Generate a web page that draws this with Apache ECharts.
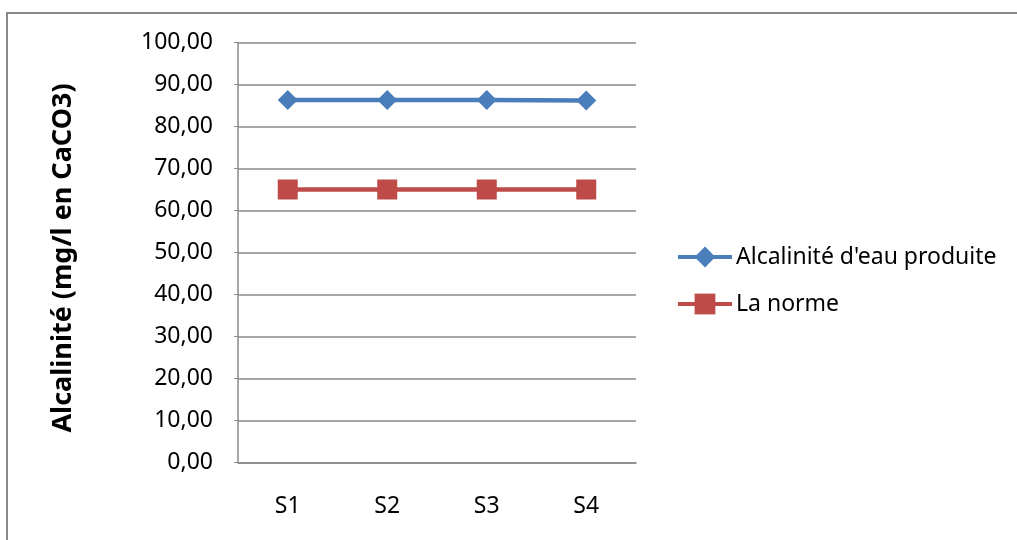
<!DOCTYPE html>
<html>
<head>
<meta charset="utf-8">
<script src="https://cdn.jsdelivr.net/npm/echarts@6/dist/echarts.min.js"></script>
<style>
  html, body { margin: 0; padding: 0; background: #ffffff; }
  #chart { width: 1017px; height: 540px; }
</style>
</head>
<body>
<div id="chart"></div>
<script>
// Sampling points and measured alkalinity versus the reference standard
var categories = ['S1', 'S2', 'S3', 'S4'];
var alcaliniteEau = [86.3, 86.3, 86.3, 86.2];
var normeValues = [65, 65, 65, 65];
var seriesNames = ["Alcalinité d'eau produite", 'La norme'];
var yTitle = 'Alcalinité (mg/l en CaCO3)';

var FONT = '"Noto Sans", "Open Sans", sans-serif';
var GRIDC = '#8a8a8a';
var BLUE = '#4A7EBB';
var RED = '#BE4B48';

var chart = echarts.init(document.getElementById('chart'), null, { renderer: 'canvas' });

function legendAt(name, top) {
  return {
    orient: 'vertical',
    left: 676,
    top: top,
    padding: 0,
    itemWidth: 54,
    itemHeight: 26,
    lineStyle: { width: 4 },
    textStyle: { fontFamily: FONT, fontSize: 23, lineHeight: 26, color: '#000000', padding: [0, 0, 0, -1] },
    data: [name]
  };
}

chart.setOption({
  backgroundColor: '#ffffff',
  animation: false,
  grid: { left: 238, top: 42.5, width: 398, height: 420, containLabel: false },
  legend: [legendAt(seriesNames[0], 244), legendAt(seriesNames[1], 291)],
  xAxis: {
    type: 'category',
    data: categories,
    boundaryGap: true,
    axisLine: { lineStyle: { color: GRIDC, width: 1.5 } },
    axisTick: { show: false },
    axisLabel: { fontFamily: FONT, fontSize: 23, color: '#000000', margin: 32 },
    splitLine: { show: false }
  },
  yAxis: {
    type: 'value',
    min: 0,
    max: 100,
    interval: 10,
    axisLine: { show: true, lineStyle: { color: GRIDC, width: 1.5 } },
    axisTick: { show: true, length: 4, lineStyle: { color: GRIDC } },
    axisLabel: {
      fontFamily: FONT, fontSize: 23, color: '#000000', margin: 25,
      formatter: function (v) { return v.toFixed(2).replace('.', ','); }
    },
    splitLine: { show: true, lineStyle: { color: GRIDC, width: 1.5 } }
  },
  series: [
    {
      name: seriesNames[0],
      type: 'line',
      data: alcaliniteEau,
      symbol: 'diamond',
      symbolSize: 20,
      color: BLUE,
      lineStyle: { width: 4.5, color: BLUE },
      itemStyle: { color: BLUE }
    },
    {
      name: seriesNames[1],
      type: 'line',
      data: normeValues,
      symbol: 'rect',
      symbolSize: 20,
      color: RED,
      lineStyle: { width: 4.5, color: RED },
      itemStyle: { color: RED }
    }
  ],
  graphic: [
    {
      type: 'text',
      x: 63,
      y: 258,
      rotation: Math.PI / 2,
      style: {
        text: yTitle,
        font: 'bold 27px "Noto Sans", "Open Sans", sans-serif',
        fill: '#000000',
        align: 'center',
        verticalAlign: 'middle'
      }
    },
    {
      type: 'polyline',
      silent: true,
      shape: { points: [[7, 540], [7, 13], [1017, 13]] },
      style: { stroke: '#8a8a8a', lineWidth: 2, fill: null }
    }
  ]
});
</script>
</body>
</html>
